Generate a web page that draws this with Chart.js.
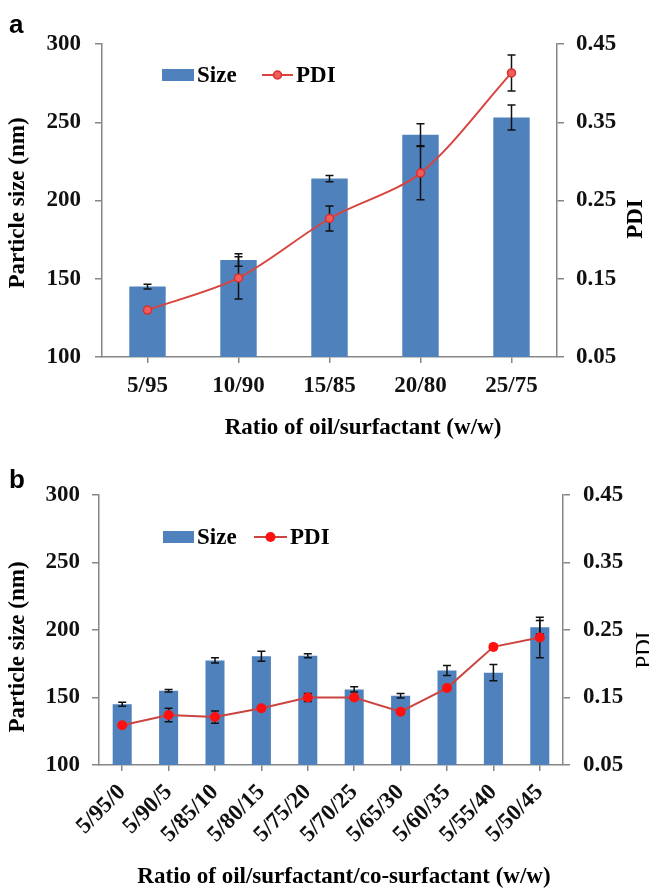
<!DOCTYPE html>
<html><head><meta charset="utf-8">
<script src="https://cdn.jsdelivr.net/npm/chart.js@4.4.1/dist/chart.umd.min.js"></script>
<style>
html,body{margin:0;padding:0;background:#fff;}
#wrap{position:relative;width:649px;height:890px;overflow:hidden;background:#fff;}
canvas{position:absolute;left:0;}
#ca{top:0;} #cb{top:445px;}
.panel{position:absolute;font:bold 26px "Liberation Sans",Arial,sans-serif;line-height:26px;color:#000;}
</style></head><body>
<div id="wrap">
<canvas id="ca" width="649" height="445"></canvas>
<canvas id="cb" width="649" height="445"></canvas>
<div class="panel" style="left:9px;top:11px">a</div>
<div class="panel" style="left:9px;top:466px">b</div>
</div>
<script>
// ---- data: panel a ----
const catsA = ['5/95','10/90','15/85','20/80','25/75'];
const sizeA = [145, 162, 214, 242, 253];
const sizeErrA = [1.5, 4, 2, 7, 8];
const pdiA = [0.110, 0.151, 0.227, 0.285, 0.413];
const pdiErrA = [0, 0.027, 0.016, 0.034, 0.023];

// ---- data: panel b ----
const catsB = ['5/95/0','5/90/5','5/85/10','5/80/15','5/75/20','5/70/25','5/65/30','5/60/35','5/55/40','5/50/45'];
const sizeB = [145, 155, 177.5, 180.5, 181, 156, 151.3, 170, 168.4, 202];
const sizeErrB = [1.5, 1, 2, 3.7, 1.5, 2, 1.7, 3.7, 6, 5];
const pdiB = [0.109, 0.124, 0.121, 0.134, 0.150, 0.150, 0.129, 0.164, 0.225, 0.239];
const pdiErrB = [0, 0.010, 0.009, 0, 0.006, 0, 0, 0, 0, 0.030];

// ---- tick labels ----
const sizeTicks = [100, 150, 200, 250, 300];
const pdiTicks = ['0.05', '0.15', '0.25', '0.35', '0.45'];

const SERIF = '"Liberation Serif","Times New Roman",serif';
const AXIS = '#868686';

const extras = {
  id: 'extras',
  beforeDatasetDraw(chart, args, opts) {
    if (args.meta.type === 'line') drawErr(chart, args.index);
  },
  afterDatasetDraw(chart, args, opts) {
    if (args.meta.type === 'bar') drawErr(chart, args.index);
  },
  afterDraw(chart, args, opts) {
    const ctx = chart.ctx;
    const L = opts.legend;
    const bar = chart.data.datasets[0], line = chart.data.datasets[1];
    ctx.save();
    ctx.font = 'bold 23px ' + SERIF;
    ctx.textBaseline = 'middle';
    ctx.textAlign = 'left';
    ctx.fillStyle = bar.backgroundColor;
    ctx.fillRect(L.boxX, L.y - L.boxH / 2, L.boxW, L.boxH);
    ctx.fillStyle = '#000';
    ctx.fillText(bar.label, L.boxX + L.boxW + 3, L.y + 1);
    ctx.strokeStyle = line.borderColor;
    ctx.lineWidth = 2;
    ctx.beginPath();
    ctx.moveTo(L.lineX, L.y); ctx.lineTo(L.lineX + L.lineW, L.y); ctx.stroke();
    ctx.beginPath();
    ctx.arc(L.lineX + L.lineW / 2, L.y, line.pointRadius, 0, Math.PI * 2);
    ctx.fillStyle = line.pointBackgroundColor; ctx.fill();
    if (line.pointBorderWidth) { ctx.lineWidth = line.pointBorderWidth; ctx.strokeStyle = line.pointBorderColor; ctx.stroke(); }
    ctx.fillStyle = '#000';
    ctx.fillText(line.label, L.lineX + L.lineW + 3, L.y + 1);
    // axis titles
    for (const t of opts.titles) {
      ctx.save();
      ctx.font = t.font;
      ctx.textAlign = 'center';
      ctx.textBaseline = 'middle';
      ctx.translate(t.x, t.y);
      ctx.rotate(t.rot);
      ctx.fillStyle = '#000';
      ctx.fillText(t.text, 0, 0);
      ctx.restore();
    }
    ctx.restore();
  }
};

function drawErr(chart, i) {
  const ds = chart.data.datasets[i];
  if (!ds.errors) return;
  const meta = chart.getDatasetMeta(i);
  const ys = chart.scales[ds.yAxisID];
  const ctx = chart.ctx;
  ctx.save();
  ctx.strokeStyle = '#111';
  ctx.lineWidth = 1.5;
  ds.data.forEach((v, j) => {
    const e = ds.errors[j];
    if (!e) return;
    const x = meta.data[j].x;
    const y1 = ys.getPixelForValue(v + e), y2 = ys.getPixelForValue(v - e);
    ctx.beginPath();
    ctx.moveTo(x, y1); ctx.lineTo(x, y2);
    ctx.moveTo(x - 4, y1); ctx.lineTo(x + 4, y1);
    ctx.moveTo(x - 4, y2); ctx.lineTo(x + 4, y2);
    ctx.stroke();
  });
  ctx.restore();
}

function makeChart(id, cats, size, sizeErr, pdi, pdiErr, st) {
  const tickFont = { family: SERIF, size: 23, weight: 'bold' };
  const gridOpts = { drawOnChartArea: false, drawTicks: true, tickLength: 7, color: AXIS, lineWidth: 1.5 };
  const borderOpts = { display: true, color: AXIS, width: 1.5 };
  return new Chart(document.getElementById(id), {
    type: 'bar',
    data: {
      labels: cats,
      datasets: [
        { type: 'bar', label: 'Size', data: size, errors: sizeErr, yAxisID: 'y',
          backgroundColor: '#4f81bd', categoryPercentage: 1, barPercentage: st.barPct, order: 2 },
        { type: 'line', label: 'PDI', data: pdi, errors: pdiErr, yAxisID: 'y1',
          borderColor: st.lineColor, borderWidth: 2, tension: st.tension, fill: false,
          pointRadius: st.pr, pointBackgroundColor: st.pFill, pointBorderColor: st.pBorder,
          pointBorderWidth: st.pbw, order: 1 }
      ]
    },
    options: {
      responsive: false, animation: false, devicePixelRatio: 1,
      layout: { padding: { top: st.top, left: 0, right: 0, bottom: 4 } },
      plugins: {
        legend: { display: false }, tooltip: { enabled: false },
        extras: { legend: st.legend, titles: st.titles }
      },
      scales: {
        x: {
          offset: true,
          grid: Object.assign({}, gridOpts, { offset: false, tickLength: 6 }),
          border: borderOpts,
          ticks: { font: tickFont, color: '#111', padding: st.xPad, autoSkip: false,
                   minRotation: st.rot, maxRotation: st.rot },
          afterFit(s) { s.height = st.xH; }
        },
        y: {
          position: 'left',
          min: sizeTicks[0], max: sizeTicks[sizeTicks.length - 1],
          ticks: { stepSize: sizeTicks[1] - sizeTicks[0], font: tickFont, color: '#111', padding: st.yPad },
          grid: gridOpts, border: borderOpts,
          afterFit(s) { s.width = st.left; }
        },
        y1: {
          position: 'right',
          min: parseFloat(pdiTicks[0]), max: parseFloat(pdiTicks[pdiTicks.length - 1]),
          ticks: { stepSize: parseFloat(pdiTicks[1]) - parseFloat(pdiTicks[0]), font: tickFont, color: '#111', padding: st.y1Pad,
                   callback: (v) => pdiTicks.find(t => Math.abs(parseFloat(t) - v) < 1e-6) ?? '' },
          grid: gridOpts, border: borderOpts,
          afterFit(s) { s.width = 649 - st.right; }
        }
      }
    },
    plugins: [extras]
  });
}

makeChart('ca', catsA, sizeA, sizeErrA, pdiA, pdiErrA, {
  barPct: 0.4, lineColor: '#d8443f', tension: 0.3, pr: 4, pFill: '#f25c5c', pBorder: '#d8302c', pbw: 1.5,
  top: 44, left: 102, right: 557, xH: 445 - 357 - 4, xPad: 9, rot: 0, yPad: 14, y1Pad: 12,
  legend: { y: 75, boxX: 162, boxW: 32, boxH: 12, lineX: 262, lineW: 31 },
  titles: [
    { text: 'Particle size (nm)', x: 18, y: 203, rot: -Math.PI / 2, font: 'bold 23px ' + SERIF },
    { text: 'Ratio of oil/surfactant (w/w)', x: 363, y: 428, rot: 0, font: 'bold 23px ' + SERIF },
    { text: 'PDI', x: 636, y: 219, rot: -Math.PI / 2, font: 'bold 23px ' + SERIF }
  ]
});

makeChart('cb', catsB, sizeB, sizeErrB, pdiB, pdiErrB, {
  barPct: 0.41, lineColor: '#cc4440', tension: 0, pr: 5, pFill: '#ff1010', pBorder: '#ff1010', pbw: 0,
  top: 50, left: 99, right: 563, xH: 445 - 320 - 4, xPad: 8, rot: 45, yPad: 12, y1Pad: 13,
  legend: { y: 92, boxX: 163, boxW: 31, boxH: 12, lineX: 254, lineW: 33 },
  titles: [
    { text: 'Particle size (nm)', x: 18, y: 202, rot: -Math.PI / 2, font: 'bold 23px ' + SERIF },
    { text: 'Ratio of oil/surfactant/co-surfactant (w/w)', x: 344, y: 432, rot: 0, font: 'bold 23px ' + SERIF },
    { text: 'PDI', x: 645, y: 205, rot: -Math.PI / 2, font: '23px ' + SERIF }
  ]
});
</script>
</body></html>
